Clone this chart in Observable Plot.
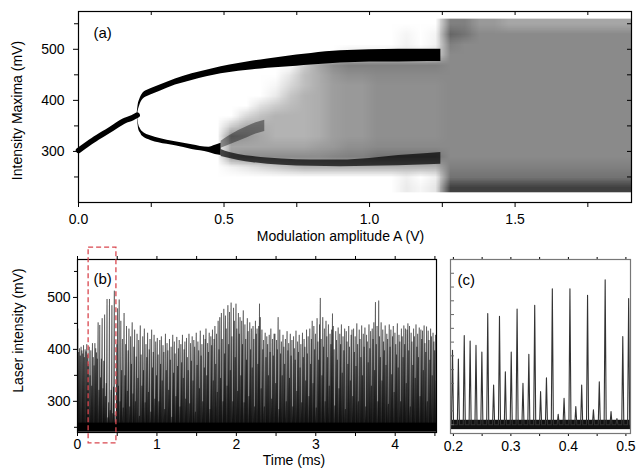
<!DOCTYPE html>
<html><head><meta charset="utf-8">
<script src="https://cdn.jsdelivr.net/npm/d3@7"></script>
<script src="https://cdn.jsdelivr.net/npm/@observablehq/plot@0.6"></script>
<style>
body{margin:0;background:#fff}
#wrap{position:relative;width:641px;height:470px;overflow:hidden;background:#fff}
#wrap svg{position:absolute}
</style>
</head><body><div id="wrap"></div>
<script>
const FONT = "'Liberation Sans', Arial, Helvetica, sans-serif";

// ---------- Panel (a): bifurcation diagram ----------
// single periodic branch (A < 0.2 V)
const mainX = [0, 0.05, 0.104, 0.1615, 0.185, 0.2016];
const mainY = [302, 322, 341, 361, 366, 371];
// upper branch / dense upper band
const upperX  = [0.2016, 0.205, 0.21, 0.219, 0.25, 0.276, 0.333, 0.39, 0.44, 0.49, 0.55, 0.6, 0.65, 0.7, 0.75, 0.8, 0.85, 0.9, 0.95, 1.0, 1.1, 1.2, 1.245];
const upperHi = [375, 391, 401, 412, 423, 429, 442, 452, 459, 466, 472, 477, 481, 485, 489, 492, 495, 497, 498, 499, 500, 500, 500];
const upperLo = [367, 379, 389, 400, 411, 417, 430, 439, 446, 452, 457, 460, 463, 465, 467, 469, 471, 473, 474, 475, 475, 476, 476];
// lower periodic branch
const lowBranchX  = [0.2016, 0.204, 0.207, 0.213, 0.219, 0.25, 0.276, 0.333, 0.39, 0.448, 0.47, 0.49];
const lowBranchHi = [374, 362, 352, 344, 339, 330, 326, 319, 313, 308, 312, 316];
const lowBranchLo = [368, 355, 343, 336, 330, 321, 317, 311, 304, 298, 294, 292];
// diffuse lower band of the chaotic region
const lowBandX  = [0.49, 0.52, 0.55, 0.6, 0.65, 0.7, 0.8, 0.9, 1.0, 1.1, 1.2, 1.245];
const lowBandHi = [304, 298, 294, 290, 287, 285, 283, 283, 286, 292, 296, 298];
const lowBandLo = [290, 286, 282, 278, 275, 273, 271, 270, 271, 272, 274, 275];
// inner arc right after the second bifurcation
const arcX  = [0.49, 0.52, 0.55, 0.58, 0.61, 0.64];
const arcHi = [320, 331, 341, 349, 356, 361];
const arcLo = [306, 313, 320, 327, 334, 339];
// point density of the chaotic scatter (0..10), rows from 550 mV down to 230 mV, columns 0.45..1.90 V
const density = [
  [0,0,0,0,0,0,0,0,0,0,0,0,0,0,0,0, 5,5,4,4,3.5,3.5,3.5,3.5,3.5,3.5,3.5,3.5,3.5],
  [0,0,0,0,0,0,0,0,0,0,0,0,0,0.4,0,0.4, 6,5.5,4.6,4.6,4.6,4.6,4.6,4.6,4.6,4.6,4.6,4.6,4.6],
  [0,0,0,0,0,0,0,0,0,0,0,0,0,0.5,0,0.5, 5,4.6,4.6,4.6,4.6,4.6,4.6,4.6,4.6,4.6,4.6,4.6,4.6],
  [0,0,0,0,0,0,0,0,0,1,1,1,1,1,1,1.5, 4.6,4.6,4.6,4.6,4.6,4.6,4.6,4.6,4.6,4.6,4.6,4.6,4.6],
  [0,0,0,0,0,0,2,3.5,4.5,5,5,5,5,5,5,5, 4.6,4.6,4.6,4.6,4.6,4.6,4.6,4.6,4.6,4.6,4.6,4.6,4.6],
  [0,0,0,0,0,1,2.5,3.2,4,4.4,4.4,4.6,4.6,4.6,4.6,4.6, 4.6,4.6,4.6,4.6,4.6,4.6,4.6,4.6,4.6,4.6,4.6,4.6,4.6],
  [0,0,0,0,0.3,1.5,2.5,3.2,3.8,4,4,4.4,4.4,4.4,4.4,4.4, 4.6,4.6,4.6,4.6,4.6,4.6,4.6,4.6,4.6,4.6,4.6,4.6,4.6],
  [0,0,0,0,0.8,2.2,3,3.2,3.8,4,4,4.4,4.4,4.4,4.4,4.4, 4.6,4.6,4.6,4.6,4.6,4.6,4.6,4.6,4.6,4.6,4.6,4.6,4.6],
  [0,0,0,1.2,2,2.6,3,3.2,3.8,4,4,4.4,4.4,4.4,4.4,4.4, 4.6,4.6,4.6,4.6,4.6,4.6,4.6,4.6,4.6,4.6,4.6,4.6,4.6],
  [0,0,1.5,2.4,3,3,3,3.2,3.8,4,4,4.4,4.4,4.4,4.4,4.4, 4.6,4.6,4.6,4.6,4.6,4.6,4.6,4.6,4.6,4.6,4.6,4.6,4.6],
  [0,2,3.2,3.2,3,3,3,3.2,3.8,4,4,4.4,4.4,4.4,4.4,4.4, 4.6,4.6,4.6,4.6,4.6,4.6,4.6,4.6,4.6,4.6,4.6,4.6,4.6],
  [0,4.5,4,3.5,3,3,3,3.2,3.8,4,4,4.4,4.4,4.4,4.4,4.4, 4.6,4.6,4.6,4.6,4.6,4.6,4.6,4.6,4.6,4.6,4.6,4.6,4.6],
  [0,3.5,3.5,3.5,3.5,3.5,3.5,3.8,4,4.4,4.4,4.6,4.6,4.6,4.6,4.6, 4.6,4.6,4.6,4.6,4.6,4.6,4.6,4.6,4.6,4.6,4.6,4.6,4.6],
  [0,4,4.5,4.5,4.5,4.5,4.5,4.5,4.8,5,5,5.5,5.5,5.5,5.5,5.5, 4.6,4.6,4.6,4.6,4.6,4.6,4.6,4.6,4.6,4.6,4.6,4.6,4.6],
  [0,0.5,1,1.5,2,2.5,3,3,3,3,3,3,3,3,3,3, 5,5,5,5,5,5,5,5,5,5,5,5,5],
  [0,0,0,0,0,0,0,0,0,0,0,0,0,0.6,0,0.6, 5.5,5.5,5.5,5.5,5.5,5.5,5.5,5.5,5.5,5.5,5.5,5.5,5.5],
  [0,0,0,0,0,0,0,0,0,0,0,0,0,0.8,0.3,1, 7.5,7.5,7.5,7.5,7.5,7.5,7.5,7.5,7.5,7.5,7.5,7.5,7.5]
];
const densityX = [0.45, 1.9];
const densityY = [560, 220];
const aXMajor = [0, 0.5, 1, 1.5];
const aXMinor = [0.25, 0.75, 1.25, 1.75];
const aYMajor = [300, 400, 500];
const aYMinor = [250, 350, 450, 550];

// ---------- Panels (b) and (c): laser intensity time series ----------
const peaks = [
  440, 395, 402, 388, 405, 398, 392, 408, 385, 400, 396, 410, 390, 372, 405, 350, 398, 330, 412, 385,
  369, 412, 402, 394, 382, 452, 322, 447, 346, 382, 460, 325, 378, 467, 310, 335, 497, 269, 298, 497,
  283, 322, 485, 277, 328, 513, 274, 261, 410, 479, 330, 496, 300, 455, 360, 420, 288, 470, 350, 410,
  445, 320, 398, 440, 290, 425, 372, 452, 315, 405, 438, 300, 386, 430, 345, 418, 272, 446, 390, 330,
  425, 360, 440, 298, 410, 385, 432, 318, 400, 420, 280, 438, 365, 395, 428, 305, 415, 350, 422, 390,
  300, 418, 372, 425, 340, 408, 395, 285, 430, 360, 412, 398, 322, 420, 380, 405, 270, 428, 355, 415,
  392, 310, 424, 368, 402, 418, 290, 410, 375, 428, 345, 400, 415, 305, 422, 385, 360, 430, 296, 412,
  378, 425, 340, 418, 405, 280, 432, 370, 415, 398, 325, 436, 388, 410, 300, 428, 365, 420, 440, 350,
  412, 395, 432, 285, 425, 408, 438, 340, 420, 445, 372, 430, 318, 455, 400, 462, 345, 470, 420, 300,
  478, 392, 465, 440, 330, 485, 410, 472, 360, 490, 425, 300, 480, 455, 385, 488, 440, 320, 470, 430,
  462, 350, 455, 410, 475, 298, 448, 420, 380, 460, 435, 310, 452, 400, 440, 365, 445, 420, 290, 455,
  430, 440, 372, 445, 488, 462, 325, 438, 400, 418, 290, 432, 385, 425, 410, 350, 428, 395, 440, 305,
  420, 388, 430, 430, 335, 418, 400, 462, 285, 438, 392, 415, 350, 428, 405, 372, 420, 300, 435, 398,
  412, 345, 430, 388, 418, 290, 425, 402, 380, 436, 320, 415, 395, 428, 365, 410, 298, 432, 385, 420,
  405, 340, 438, 392, 425, 310, 440, 372, 420, 455, 335, 445, 400, 430, 288, 460, 415, 380, 448, 499,
  420, 350, 462, 405, 440, 300, 455, 425, 385, 448, 330, 430, 410, 438, 469, 445, 400, 292, 435, 418,
  380, 442, 325, 430, 410, 448, 355, 425, 398, 440, 285, 435, 415, 372, 445, 405, 340, 428, 438, 310,
  440, 395, 425, 368, 450, 410, 300, 438, 420, 385, 446, 350, 430, 405, 442, 290, 428, 415, 375, 448,
  402, 435, 330, 440, 420, 452, 360, 491, 410, 445, 300, 494, 425, 385, 452, 340, 438, 415, 398, 446,
  370, 430, 420, 295, 448, 405, 438, 352, 425, 445, 318, 432, 410, 390, 450, 365, 428, 415, 300, 440,
  425, 385, 446, 410, 440, 335, 438, 450, 398, 445, 290, 432, 415, 370, 440, 425, 345, 448, 405, 430,
  385, 442, 310, 438, 420, 436, 360, 446, 412, 395, 444, 300, 436, 418, 380, 440, 425, 350, 432, 415,
  398, 428, 340
];
const T0 = 0.0045;      // time of first pulse (ms)
const DT = 0.01021;     // pulse period (ms)
const HALF_B = 0.004;   // drawn half width of a pulse in (b) (ms)
const HALF_C = 0.0018;  // drawn half width of a pulse in (c) (ms)
const BASE = 250;       // baseline (mV)
const noiseBand = [241, 258];
const timeRange = [0, 4.52];
const zoomBox = {t1: 0.14, t2: 0.49, v1: 219, v2: 596};
const bXMajor = [0, 1, 2, 3, 4];
const bXMinor = [0.5, 1.5, 2.5, 3.5, 4.5];
const bYMajor = [300, 400, 500];
const bYMinor = [250, 350, 450, 550];
const cRange = [0.195, 0.508];
const cXMajor = [0.2, 0.3, 0.4, 0.5];
const cXMinor = [0.25, 0.35, 0.45];
const cYTicks = [250, 275, 300, 325, 350, 375, 400, 425, 450, 475, 500, 525, 550];

// ---------- build tables ----------
const band = (X, H, L) => X.map((x, i) => ({x, hi: H[i], lo: L[i]}));
const mainPts = mainX.map((x, i) => ({x, y: mainY[i]}));
const pulses = (half) => {
  const out = [];
  peaks.forEach((p, k) => {
    const t = T0 + k * DT;
    out.push({t: t - half, v: BASE}, {t, v: p}, {t: t + half, v: BASE});
  });
  return out;
};
const spikeB = pulses(HALF_B);
const spikeC = pulses(HALF_C).filter(d => d.t > cRange[0] - 0.02 && d.t < cRange[1] + 0.02);
const style = {fontFamily: FONT, fontSize: "14px", color: "#000", background: "transparent"};
const blank = () => "";

// ---------- (a) ----------
const aFrameW = 641 - 78 - 10, aFrameH = 250 - 11 - 48;
const plotA = Plot.plot({
  width: 641, height: 250,
  marginLeft: 78, marginRight: 10, marginTop: 11, marginBottom: 48,
  x: {domain: [0, 1.9]},
  y: {domain: [200, 574]},
  color: {type: "linear", domain: [0, 10], range: ["#ffffff", "#000000"]},
  style,
  marks: [
    Plot.raster(density.flat(), {
      x1: densityX[0], x2: densityX[1], y1: densityY[0], y2: densityY[1],
      width: density[0].length, height: density.length,
      fill: d => d, imageRendering: "auto"
    }),
    Plot.areaY(band(lowBandX, lowBandHi, lowBandLo), {x: "x", y1: "lo", y2: "hi", fill: "black", fillOpacity: 0.7, curve: "monotone-x"}),
    Plot.areaY(band(arcX, arcHi, arcLo), {x: "x", y1: "lo", y2: "hi", fill: "black", fillOpacity: 0.4, curve: "monotone-x"}),
    Plot.areaY(band(upperX, upperHi, upperLo), {x: "x", y1: "lo", y2: "hi", fill: "black", curve: "monotone-x"}),
    Plot.areaY(band(lowBranchX, lowBranchHi, lowBranchLo), {x: "x", y1: "lo", y2: "hi", fill: "black", curve: "monotone-x"}),
    Plot.line(mainPts, {x: "x", y: "y", stroke: "black", strokeWidth: 5.5, curve: "monotone-x"}),
    Plot.axisX(aXMajor, {anchor: "bottom", tickSize: 5, tickPadding: 7, tickFormat: d3.format(".1f"), label: null}),
    Plot.axisX(aXMinor, {anchor: "bottom", tickSize: 5, tickFormat: blank, label: null}),
    Plot.tickX([...aXMajor, ...aXMinor], {x: d => d, insetBottom: aFrameH - 4}),
    Plot.axisY(aYMajor, {anchor: "left", tickSize: 5, tickPadding: 9, label: null}),
    Plot.axisY(aYMinor, {anchor: "left", tickSize: 4, tickFormat: blank, label: null}),
    Plot.tickY([...aYMajor, ...aYMinor], {y: d => d, insetLeft: aFrameW - 4}),
    Plot.frame({strokeWidth: 1.2}),
    Plot.text(["(a)"], {frameAnchor: "top-left", dx: 15, dy: 22, textAnchor: "start", lineAnchor: "middle", fontSize: 15}),
    Plot.text(["Intensity Maxima (mV)"], {frameAnchor: "left", dx: -61, dy: 3.5, rotate: -90, textAnchor: "middle", lineAnchor: "middle"}),
    Plot.text(["Modulation amplitude A (V)"], {frameAnchor: "bottom", dx: -14.5, dy: 38, textAnchor: "middle"})
  ]
});

// ---------- (b) ----------
const plotB = Plot.plot({
  width: 445, height: 230,
  marginLeft: 77, marginRight: 9, marginTop: 19, marginBottom: 38,
  x: {domain: timeRange},
  y: {domain: [240, 573]},
  style,
  marks: [
    Plot.rect([noiseBand], {x1: () => timeRange[0], x2: () => timeRange[1], y1: d => d[0], y2: d => d[1], fill: "black"}),
    Plot.areaY(spikeB, {x: "t", y1: () => noiseBand[0], y2: "v", fill: "black", clip: true}),
    Plot.line(spikeB, {x: "t", y: "v", stroke: "black", strokeWidth: 0.4, clip: true}),
    Plot.axisX(bXMajor, {anchor: "bottom", tickSize: 4, tickPadding: 2.5, label: null}),
    Plot.axisX(bXMinor, {anchor: "bottom", tickSize: 4, tickFormat: blank, label: null}),
    Plot.axisX([...bXMajor, ...bXMinor], {anchor: "top", tickSize: 4, tickFormat: blank, label: null}),
    Plot.axisY(bYMajor, {anchor: "left", tickSize: 4, tickPadding: 3, label: null}),
    Plot.axisY(bYMinor, {anchor: "left", tickSize: 3, tickFormat: blank, label: null}),
    Plot.frame({strokeWidth: 1.2}),
    Plot.rect([zoomBox], {x1: "t1", x2: "t2", y1: "v1", y2: "v2", fill: "none", stroke: "#d9474f", strokeWidth: 1.3, strokeDasharray: "5,3"}),
    Plot.text(["(b)"], {frameAnchor: "top-left", dx: 16, dy: 20, textAnchor: "start", lineAnchor: "middle", fontSize: 15}),
    Plot.text(["Laser intensity (mV)"], {frameAnchor: "left", dx: -59, dy: -15.5, rotate: -90, textAnchor: "middle", lineAnchor: "middle"}),
    Plot.text(["Time (ms)"], {frameAnchor: "bottom", dx: 37, dy: 32.5, textAnchor: "middle"})
  ]
});

// ---------- (c) ----------
const cFrameW = 201 - 10 - 11;
const plotC = Plot.plot({
  width: 201, height: 230,
  marginLeft: 10, marginRight: 11, marginTop: 19, marginBottom: 37,
  x: {domain: cRange},
  y: {domain: [234, 550], axis: null},
  style,
  marks: [
    Plot.rect([noiseBand], {x1: () => cRange[0], x2: () => cRange[1], y1: d => d[0], y2: d => d[1], fill: "#111"}),
    Plot.line(spikeC, {x: "t", y: "v", stroke: "#333", strokeWidth: 1.1, clip: true}),
    Plot.axisX(cXMajor, {anchor: "bottom", tickSize: 3, tickPadding: 5, tickFormat: d3.format(".1f"), label: null}),
    Plot.axisX(cXMinor, {anchor: "bottom", tickSize: 3, tickFormat: blank, label: null}),
    Plot.axisX([...cXMajor, ...cXMinor], {anchor: "top", tickSize: 3, tickFormat: blank, label: null}),
    Plot.tickY(cYTicks, {y: d => d, insetRight: cFrameW - 4, stroke: "#666"}),
    Plot.frame({stroke: "#777", strokeWidth: 1.2}),
    Plot.text(["(c)"], {frameAnchor: "top-left", dx: 7, dy: 21, textAnchor: "start", lineAnchor: "middle", fontSize: 15})
  ]
});

const wrap = document.getElementById("wrap");
plotA.style.left = "0px"; plotA.style.top = "0px";
plotB.style.left = "0px"; plotB.style.top = "240px";
plotC.style.left = "440px"; plotC.style.top = "240px";
wrap.append(plotA, plotB, plotC);
</script>
</body></html>
